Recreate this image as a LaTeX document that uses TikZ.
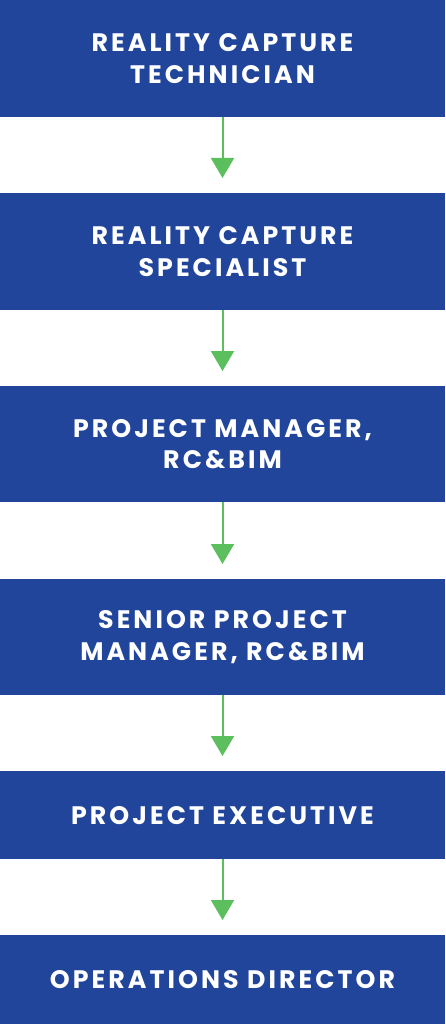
\documentclass[tikz,border=0pt]{standalone}
\usepackage{fontspec}
\setmainfont[LetterSpace=12,BoldFont={Poppins Bold}]{Poppins}
\usetikzlibrary{arrows.meta}
\definecolor{boxblue}{HTML}{21459A}
\definecolor{arrgreen}{HTML}{5CBF5E}
\tikzset{
  rolebox/.style={fill=boxblue, draw=none, text=white, minimum width=445pt, inner sep=0pt, align=center, font=\fontsize{25.3}{31.7}\selectfont\bfseries, anchor=north},
  conn/.style={draw=arrgreen, line width=2pt, -{Triangle[width=23pt,length=20pt]}, shorten >=15pt}
}
\begin{document}
\begin{tikzpicture}[x=1pt,y=-1pt]
\useasboundingbox (0,0) rectangle (445,1024);
\node[rolebox, minimum height=117pt] (b1) at (222.5,0) {REALITY CAPTURE\\TECHNICIAN};
\node[rolebox, minimum height=117pt] (b2) at (222.5,193) {REALITY CAPTURE\\SPECIALIST};
\node[rolebox, minimum height=116pt] (b3) at (222.5,386) {PROJECT MANAGER,\\RC\&BIM};
\node[rolebox, minimum height=116pt] (b4) at (222.5,579) {SENIOR PROJECT\\MANAGER, RC\&BIM};
\node[rolebox, minimum height=88pt] (b5) at (222.5,771) {PROJECT EXECUTIVE};
\node[rolebox, minimum height=89pt] (b6) at (222.5,935) {OPERATIONS DIRECTOR};
\draw[conn] (b1.south) -- (b2.north);
\draw[conn] (b2.south) -- (b3.north);
\draw[conn] (b3.south) -- (b4.north);
\draw[conn] (b4.south) -- (b5.north);
\draw[conn] (b5.south) -- (b6.north);
\end{tikzpicture}
\end{document}
